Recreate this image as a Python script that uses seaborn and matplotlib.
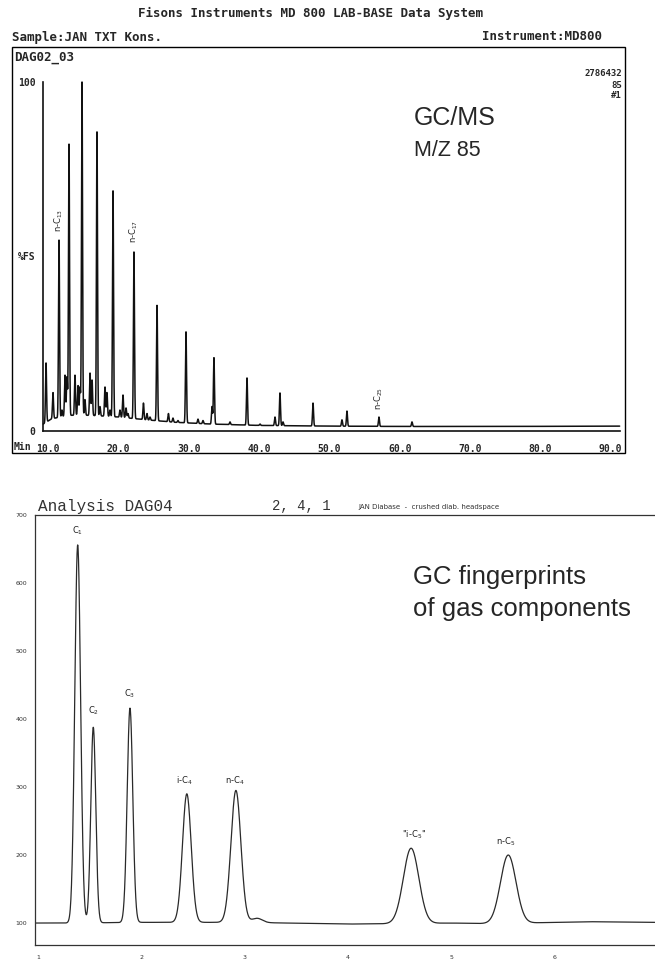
import numpy as np
import pandas as pd
import matplotlib
matplotlib.use("Agg")
import matplotlib.pyplot as plt
import seaborn as sns
from matplotlib.patches import Rectangle
from matplotlib.ticker import MultipleLocator

# ---------------- data: GC/MS m/z 85 trace (top) ----------------
ms_peak_time = [9.69, 10.68, 11.54, 11.96, 12.39, 12.67, 12.96, 13.81, 14.24, 14.52,
                14.81, 15.23, 15.95, 16.24, 16.94, 17.37, 18.08, 18.36, 18.79, 19.22,
                20.21, 20.64, 21.07, 21.35, 22.20, 23.55, 24.05, 24.48, 25.48, 27.10,
                27.75, 28.46, 29.60, 31.31, 32.02, 33.30, 33.58, 35.86, 38.28, 40.13,
                42.26, 42.97, 43.40, 47.67, 51.79, 52.50, 57.05, 61.75]
ms_peak_height = [19.5, 11.0, 54.7, 6.0, 16.0, 15.5, 82.2, 16.0, 13.0, 12.6,
                  100.0, 9.0, 16.6, 14.6, 85.7, 7.0, 12.6, 11.0, 6.0, 68.8,
                  6.0, 10.3, 6.6, 5.0, 51.3, 8.0, 5.0, 4.0, 36.0, 5.0,
                  3.7, 3.0, 28.4, 3.4, 3.0, 7.0, 21.0, 2.6, 15.2, 2.0,
                  4.0, 10.9, 2.6, 8.0, 3.2, 5.7, 4.0, 2.6]
ms_base_time = [9.3, 10.5, 13.0, 16.0, 20.0, 24.0, 28.0, 33.0, 40.0, 50.0, 60.0, 75.0, 91.3]
ms_base_level = [2.0, 3.5, 4.5, 4.5, 4.0, 3.2, 2.5, 2.0, 1.6, 1.4, 1.3, 1.3, 1.4]
ms_xticks = [10, 20, 30, 40, 50, 60, 70, 80, 90]
ms_xticklabels = ["10.0", "20.0", "30.0", "40.0", "50.0", "60.0", "70.0", "80.0", "90.0"]
ms_yticks = [0, 50, 100]
ms_yticklabels = ["0", "%FS", "100"]
ms_label_text = ["n-C$_{13}$", "n-C$_{17}$", "n-C$_{25}$"]
ms_label_time = [11.54, 22.20, 57.05]
ms_label_level = [57, 54, 6]

# ---------------- data: GC gas trace (bottom) ----------------
gas_peak_time = [1.384, 1.535, 1.89, 2.44, 2.915, 3.12, 4.61, 5.55]
gas_peak_height = [656, 388, 416, 290, 295, 107, 210, 200]
gas_peak_width = [0.028, 0.024, 0.027, 0.042, 0.048, 0.05, 0.075, 0.075]
gas_base_time = [0.97, 1.3, 2.0, 3.0, 3.4, 4.0, 4.4, 5.0, 5.4, 6.0, 6.3, 6.97]
gas_base_level = [100, 100, 101, 101, 100, 98.5, 99, 100, 99, 101, 102, 101]
gas_label_text = ["C$_1$", "C$_2$", "C$_3$", "i-C$_4$", "n-C$_4$", "\"i-C$_5$\"", "n-C$_5$"]
gas_label_time = [1.38, 1.535, 1.89, 2.42, 2.90, 4.64, 5.53]
gas_label_level = [668, 403, 428, 300, 300, 220, 210]
gas_yticks = [100, 200, 300, 400, 500, 600, 700]
gas_xticks = [1, 2, 3, 4, 5, 6]

sns.set_style("white")
plt.rcParams['font.family'] = ['DejaVu Sans']

W, H = 655, 961
fig = plt.figure(figsize=(W / 100, H / 100), dpi=100)
fig.patch.set_facecolor("white")


def fx(x):
    return x / W


def fy(y):
    return 1 - y / H


MONO = "DejaVu Sans Mono"

# ---------- top chromatogram ----------
t1 = np.arange(9.3, 91.3, 0.01)
base1 = np.interp(t1, ms_base_time, ms_base_level)
sig1 = base1.copy()
for pt, ph in zip(ms_peak_time, ms_peak_height):
    amp = ph - np.interp(pt, ms_base_time, ms_base_level)
    sig1 += amp * np.exp(-0.5 * ((t1 - pt) / 0.075) ** 2)
df1 = pd.DataFrame({"time": t1, "signal": sig1})

ax1 = fig.add_axes([fx(43), fy(431), fx(620) - fx(43), fy(82) - fy(431)])
sns.lineplot(data=df1, x="time", y="signal", ax=ax1, color="#111111", lw=1.1,
             estimator=None, sort=False)
for l in ax1.lines:
    l.set_clip_on(False)
ax1.set_xlim(9.26, 91.34)
ax1.set_ylim(0, 100)
ax1.set_xlabel("")
ax1.set_ylabel("")
for s in ["top", "right"]:
    ax1.spines[s].set_visible(False)
for s in ["left", "bottom"]:
    ax1.spines[s].set_linewidth(1.2)
    ax1.spines[s].set_color("#111111")
ax1.set_xticks(ms_xticks)
ax1.set_xticklabels(ms_xticklabels, fontfamily=MONO, fontweight="bold", fontsize=7)
ax1.xaxis.set_minor_locator(MultipleLocator(2))
ax1.tick_params(axis="x", which="major", direction="inout", length=5, width=0.8, pad=7)
ax1.tick_params(axis="x", which="minor", direction="inout", length=3, width=0.6)
ax1.set_yticks(ms_yticks)
ax1.set_yticklabels(ms_yticklabels, fontfamily=MONO, fontweight="bold", fontsize=7)
ax1.tick_params(axis="y", which="major", direction="out", length=4, width=0.9, pad=1.5)
for txt, tt, lv in zip(ms_label_text, ms_label_time, ms_label_level):
    ax1.text(tt, lv, txt, rotation=90, ha="center", va="bottom", fontsize=6)

# frame and header of the top panel
fig.patches.append(Rectangle((fx(12), fy(453)), fx(625) - fx(12), fy(47) - fy(453),
                             transform=fig.transFigure, fill=False, lw=1.0,
                             edgecolor="black"))
hdr = dict(fontfamily=MONO, fontweight="bold", fontsize=9, va="center")
fig.text(fx(311), fy(13), "Fisons Instruments MD 800 LAB-BASE Data System", ha="center", **hdr)
fig.text(fx(12), fy(37), "Sample:JAN TXT Kons.", ha="left", **hdr)
fig.text(fx(602), fy(37), "Instrument:MD800", ha="right", **hdr)
fig.text(fx(14), fy(58), "DAG02_03", ha="left", **hdr)
small = dict(fontfamily=MONO, fontweight="bold", fontsize=6.5, va="center", ha="right")
fig.text(fx(622), fy(74), "2786432", **small)
fig.text(fx(622), fy(85), "85", **small)
fig.text(fx(622), fy(96), "#1", **small)
fig.text(fx(14), fy(447), "Min", fontfamily=MONO, fontweight="bold", fontsize=7,
         ha="left", va="center")
fig.text(fx(414), fy(118), "GC/MS", fontfamily="Liberation Sans", fontsize=18,
         ha="left", va="center")
fig.text(fx(414), fy(151), "M/Z 85", fontfamily="Liberation Sans", fontsize=15.5,
         ha="left", va="center")

# ---------- bottom chromatogram ----------
t2 = np.arange(0.97, 6.97, 0.002)
base2 = np.interp(t2, gas_base_time, gas_base_level)
sig2 = base2.copy()
for pt, ph, pw in zip(gas_peak_time, gas_peak_height, gas_peak_width):
    amp = ph - np.interp(pt, gas_base_time, gas_base_level)
    sig2 += amp * np.exp(-0.5 * ((t2 - pt) / pw) ** 2)
df2 = pd.DataFrame({"time": t2, "signal": sig2})

ax2 = fig.add_axes([fx(35), fy(945), fx(655) - fx(35), fy(515) - fy(945)])
sns.lineplot(data=df2, x="time", y="signal", ax=ax2, color="#2a2a2a", lw=0.9,
             estimator=None, sort=False)
ax2.set_xlim(0.971, 6.97)
ax2.set_ylim(67.7, 700)
ax2.set_xlabel("")
ax2.set_ylabel("")
ax2.spines["right"].set_visible(False)
for s in ["top", "left", "bottom"]:
    ax2.spines[s].set_linewidth(0.9)
    ax2.spines[s].set_color("#333333")
ax2.set_yticks(gas_yticks)
ax2.set_yticklabels([str(v) for v in gas_yticks], fontsize=4.5, color="#333333")
ax2.yaxis.set_minor_locator(MultipleLocator(20))
ax2.tick_params(axis="y", which="major", direction="out", length=4, width=0.7, pad=1.5)
ax2.tick_params(axis="y", which="minor", direction="out", length=2, width=0.5)
ax2.set_xticks(gas_xticks)
ax2.set_xticklabels([str(v) for v in gas_xticks], fontsize=4.5, color="#333333")
ax2.xaxis.set_minor_locator(MultipleLocator(0.1))
ax2.tick_params(axis="x", which="major", direction="inout", length=4, width=0.7, pad=5)
ax2.tick_params(axis="x", which="minor", direction="inout", length=2, width=0.5)
for txt, tt, lv in zip(gas_label_text, gas_label_time, gas_label_level):
    ax2.text(tt, lv, txt, ha="center", va="bottom", fontsize=6, color="#222222")

fig.text(fx(38), fy(506), "Analysis DAG04", fontfamily="Liberation Mono", fontsize=11.5,
         ha="left", va="center", color="#333333")
fig.text(fx(272), fy(506), "2, 4, 1", fontfamily="Liberation Mono", fontsize=10,
         ha="left", va="center", color="#333333")
fig.text(fx(358), fy(507), "JAN Diabase  -  crushed diab. headspace", fontsize=5,
         ha="left", va="center", color="#333333")
fig.text(fx(413), fy(577), "GC fingerprints", fontfamily="Liberation Sans", fontsize=18.5,
         ha="left", va="center")
fig.text(fx(413), fy(609), "of gas components", fontfamily="Liberation Sans", fontsize=18.5,
         ha="left", va="center")

fig.savefig("out.png", dpi=100, facecolor="white")
